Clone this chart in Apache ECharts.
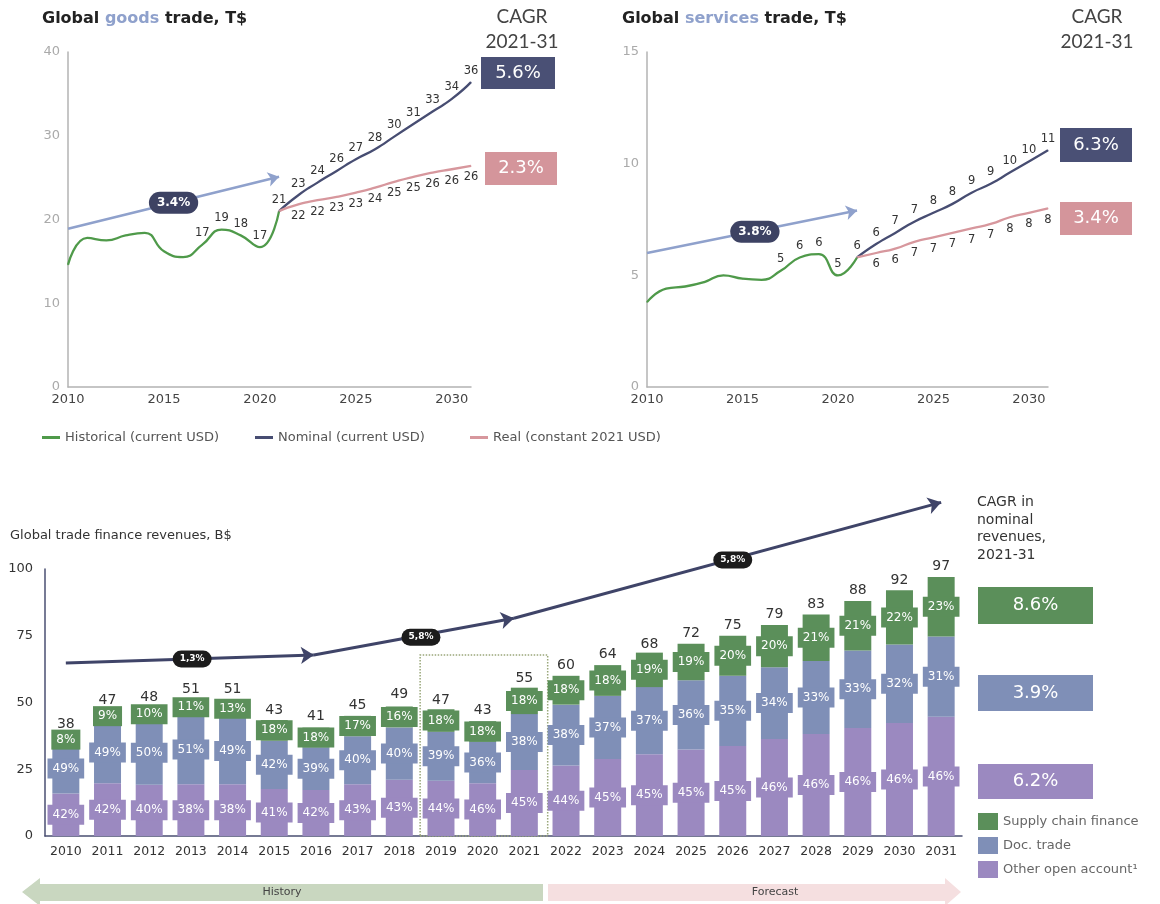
<!DOCTYPE html>
<html><head><meta charset="utf-8">
<script src="https://cdn.jsdelivr.net/npm/echarts@6/dist/echarts.min.js"></script>
<style>html,body{margin:0;padding:0;background:#fff}#c{width:1160px;height:904px}</style>
</head><body><div id="c"></div>
<script>
// ---------- DATA ----------
const histYears = [2010,2011,2012,2013,2014,2015,2016,2017,2018,2019,2020,2021];
const fcYears   = [2021,2022,2023,2024,2025,2026,2027,2028,2029,2030,2031];
const goodsHist    = [14.6,17.8,17.5,18.1,18.4,16.2,15.5,17.0,18.8,18.1,16.7,21.0];
const goodsNominal = [21.0,22.9,24.4,25.8,27.2,28.4,29.9,31.4,32.9,34.4,36.4];
const goodsReal    = [21.0,21.8,22.3,22.7,23.2,23.8,24.5,25.1,25.6,26.0,26.4];
const servHist     = [3.8,4.4,4.5,4.7,5.0,4.85,4.8,5.2,5.8,5.95,5.0,5.8];
const servNominal  = [5.8,6.4,6.9,7.4,7.8,8.2,8.7,9.1,9.6,10.1,10.6];
const servReal     = [5.8,6.0,6.2,6.5,6.7,6.9,7.1,7.3,7.6,7.8,8.0];
const goodsTrend = [[2010,18.9],[2021,25.1]];
const goodsTrendLabel = [[2015.5,22.0,'3.4%']];
const servTrend = [[2010,6.0],[2021,7.9]];
const servTrendLabel = [[2015.65,6.95,'3.8%']];
const goodsCagr = ['5.6%','2.3%'];
const servCagr  = ['6.3%','3.4%'];

const barYears = ['2010','2011','2012','2013','2014','2015','2016','2017','2018','2019','2020','2021','2022','2023','2024','2025','2026','2027','2028','2029','2030','2031'];
const totals     = [38,47,48,51,51,43,41,45,49,47,43,55,60,64,68,72,75,79,83,88,92,97];
const shareSCF   = [8,9,10,11,13,18,18,17,16,18,18,18,18,18,19,19,20,20,21,21,22,23];
const shareDoc   = [49,49,50,51,49,42,39,40,40,39,36,38,38,37,37,36,35,34,33,33,32,31];
const shareOther = [42,42,40,38,38,41,42,43,43,44,46,45,44,45,45,45,45,46,46,46,46,46];
const revTrend = [[0,64.8],[5.95,67.8],[10.75,81.6],[21.0,125]];
const revTrendLabels = [[3.03,66.3,'1,3%'],[8.52,74.5,'5,8%'],[16.0,103.4,'5,8%']];
const revCagr = ['8.6%','3.9%','6.2%'];

// ---------- STYLE ----------
const FONT = '"DejaVu Sans", sans-serif';
const LFONT = 'Lato, "Noto Sans", sans-serif';
const GREEN='#4f9a4a', NAVY='#474d72', PINK='#d7979d', TREND='#8fa1cc';
const BGREEN='#5b8f5a', BBLUE='#7f8fb7', BPURPLE='#9b89c0';
const NAMES = ['Historical (current USD)','Nominal (current USD)','Real (constant 2021 USD)'];
const BNAMES = ['Supply chain finance','Doc. trade','Other open account¹'];

function lineS(name, gi, years, vals, color, from, pos, smooth){
  return {type:'line', name, xAxisIndex:gi, yAxisIndex:gi, smooth,
    symbol:'circle', symbolSize:1, showAllSymbol:true,
    lineStyle:{color, width:2.3}, itemStyle:{color},
    data: years.map((y,i)=>({value:[y,vals[i]], label:{show:y>=from}})),
    label:{show:true, position:pos, distance:5, color:'#333', fontSize:11.5, fontFamily:FONT,
      formatter:p=>String(Math.round(p.value[1]))}, z:3};
}
function trendS(gi, pts, color, width, asize){
  const segs=[]; for(let i=0;i<pts.length-1;i++) segs.push([{coord:pts[i]},{coord:pts[i+1]}]);
  return {type:'line', name:'trend'+gi, xAxisIndex:gi, yAxisIndex:gi, data:pts, symbol:'none',
    lineStyle:{opacity:0}, silent:true, z:2,
    markLine:{silent:true, symbol:['none','arrow'], symbolSize:asize, precision:3,
      label:{show:false}, lineStyle:{color, width, type:'solid'}, data:segs}};
}
function ellS(gi, arr, bg, fs, pad){
  return {type:'scatter', name:'ell'+gi, xAxisIndex:gi, yAxisIndex:gi, symbolSize:1, silent:true, z:5,
    itemStyle:{color:'rgba(0,0,0,0)', opacity:1},
    data: arr.map(a=>({value:[a[0],a[1]], lbl:a[2]})),
    label:{show:true, position:'inside', formatter:p=>p.data.lbl, backgroundColor:bg, borderRadius:20,
      padding:pad, color:'#fff', fontWeight:'bold', fontSize:fs, fontFamily:FONT, opacity:1}};
}
function barS(name, shares, color){
  return {type:'bar', name, xAxisIndex:2, yAxisIndex:2, stack:'rev', barWidth:27,
    itemStyle:{color}, data: totals.map((t,i)=>t*shares[i]/100),
    label:{show:true, position:'inside', formatter:p=>shares[p.dataIndex]+'%', color:'#fff',
      fontSize:12, fontFamily:FONT, backgroundColor:color, padding:[4,5]}};
}
function box(x,y,w,h,fill,text){
  return [{type:'rect', shape:{x,y,width:w,height:h}, style:{fill}},
          {type:'text', x:x+w/2, y:y+h/2, style:{text, fill:'#fff', fontSize:18, fontFamily:FONT, align:'center', verticalAlign:'middle'}}];
}
function topLegend(i, left){
  return {left, top:431, padding:0, icon:'rect', itemWidth:18, itemHeight:3, data:[NAMES[i]],
    textStyle:{color:'#555', fontSize:13, fontFamily:FONT}, selectedMode:false};
}

const axisGray = {show:true, lineStyle:{color:'#b3b3b3', width:1.5}};
const option = {
  animation:false,
  textStyle:{fontFamily:FONT},
  grid:[
    {left:68, top:52, width:403, height:335},
    {left:647, top:52, width:401, height:335},
    {left:45, top:569, width:917, height:267},
    {left:45, top:489, width:917, height:347}
  ],
  xAxis:[
    {type:'value', gridIndex:0, min:2010, max:2031, interval:5, axisLine:axisGray, axisTick:{show:false}, splitLine:{show:false},
      axisLabel:{color:'#444', fontSize:13, margin:6, formatter:v=>v%5===0?String(v):''}},
    {type:'value', gridIndex:1, min:2010, max:2031, interval:5, axisLine:axisGray, axisTick:{show:false}, splitLine:{show:false},
      axisLabel:{color:'#444', fontSize:13, margin:6, formatter:v=>v%5===0?String(v):''}},
    {type:'category', gridIndex:2, data:barYears, axisLine:{show:true, lineStyle:{color:'#4a4f72', width:1.5}}, axisTick:{show:false},
      axisLabel:{color:'#333', fontSize:12.5, margin:9, interval:0}},
    {type:'value', gridIndex:3, min:-0.5, max:21.5, show:false}
  ],
  yAxis:[
    {type:'value', gridIndex:0, min:0, max:40, interval:10, axisLine:axisGray, axisTick:{show:false}, splitLine:{show:false},
      axisLabel:{color:'#aaa', fontSize:13}},
    {type:'value', gridIndex:1, min:0, max:15, interval:5, axisLine:axisGray, axisTick:{show:false}, splitLine:{show:false},
      axisLabel:{color:'#aaa', fontSize:13}},
    {type:'value', gridIndex:2, min:0, max:100, interval:25, axisLine:{show:true, lineStyle:{color:'#4a4f72', width:1.5}}, axisTick:{show:false}, splitLine:{show:false},
      axisLabel:{color:'#333', fontSize:13, margin:12}},
    {type:'value', gridIndex:3, min:0, max:130, show:false}
  ],
  legend:[
    topLegend(0, 42), topLegend(1, 255), topLegend(2, 470),
    {orient:'vertical', left:978, top:813, padding:0, icon:'rect', itemWidth:20, itemHeight:17, itemGap:7, data:BNAMES,
      textStyle:{color:'#666', fontSize:13, fontFamily:FONT}, selectedMode:false}
  ],
  series:[
    trendS(0, goodsTrend, TREND, 2.5, 11),
    lineS(NAMES[0],0,histYears,goodsHist,GREEN,2017,'top',0.5),
    lineS(NAMES[1],0,fcYears,goodsNominal,NAVY,2022,'top',0.6),
    lineS(NAMES[2],0,fcYears,goodsReal,PINK,2022,'bottom',0.6),
    ellS(0, goodsTrendLabel, '#3d4263', 12, [5,8]),
    trendS(1, servTrend, TREND, 2.5, 11),
    lineS(NAMES[0],1,histYears,servHist,GREEN,2017,'top',0.5),
    lineS(NAMES[1],1,fcYears,servNominal,NAVY,2022,'top',0.6),
    lineS(NAMES[2],1,fcYears,servReal,PINK,2022,'bottom',0.6),
    ellS(1, servTrendLabel, '#3d4263', 12, [5,8]),
    barS(BNAMES[2], shareOther, BPURPLE),
    barS(BNAMES[1], shareDoc, BBLUE),
    barS(BNAMES[0], shareSCF, BGREEN),
    {type:'scatter', name:'totals', xAxisIndex:2, yAxisIndex:2, symbolSize:1, itemStyle:{color:'rgba(0,0,0,0)', opacity:1}, data:totals,
      label:{show:true, position:'top', distance:3, color:'#333', fontSize:14, formatter:p=>String(p.value)}},
    trendS(3, revTrend, '#3f4468', 3, 13),
    ellS(3, revTrendLabels, '#1c1c1c', 9, [4,7]),
    {type:'line', name:'box', xAxisIndex:3, yAxisIndex:3, data:[], silent:true,
      markArea:{silent:true, itemStyle:{color:'rgba(0,0,0,0)', borderColor:'#9aa77a', borderWidth:1.5, borderType:'dotted'},
        data:[[{coord:[8.5,0]},{coord:[11.56,67.8]}]]}}
  ],
  graphic:[
    {type:'text', x:42, y:11, style:{text:'{a|Global }{b|goods}{a| trade, T$}', rich:{
      a:{fontSize:16, fontWeight:'bold', fill:'#222', fontFamily:FONT}, b:{fontSize:16, fontWeight:'bold', fill:TREND, fontFamily:FONT}}}},
    {type:'text', x:622, y:11, style:{text:'{a|Global }{b|services}{a| trade, T$}', rich:{
      a:{fontSize:16, fontWeight:'bold', fill:'#222', fontFamily:FONT}, b:{fontSize:16, fontWeight:'bold', fill:TREND, fontFamily:FONT}}}},
    {type:'text', x:522, y:4, style:{text:'CAGR\n2021-31', fill:'#444', fontSize:19, lineHeight:25, align:'center', fontFamily:LFONT}},
    {type:'text', x:1097, y:4, style:{text:'CAGR\n2021-31', fill:'#444', fontSize:19, lineHeight:25, align:'center', fontFamily:LFONT}},
    ...box(481,57,74,32,'#4a5075',goodsCagr[0]),
    ...box(485,152,72,33,'#d4959b',goodsCagr[1]),
    ...box(1060,128,72,34,'#4a5075',servCagr[0]),
    ...box(1060,202,72,33,'#d4959b',servCagr[1]),
    {type:'text', x:10, y:529, style:{text:'Global trade finance revenues, B$', fill:'#333', fontSize:13, fontFamily:FONT}},
    {type:'text', x:977, y:494, style:{text:'CAGR in\nnominal\nrevenues,\n2021-31', fill:'#333', fontSize:14, lineHeight:17.5, fontFamily:FONT}},
    ...box(978,587,115,37,BGREEN,revCagr[0]),
    ...box(978,675,115,36,BBLUE,revCagr[1]),
    ...box(978,764,115,35,BPURPLE,revCagr[2]),
    {type:'polygon', shape:{points:[[22,892],[40,878],[40,884],[543,884],[543,901],[40,901],[40,906]]}, style:{fill:'#c9d7c0'}},
    {type:'text', x:282, y:892, style:{text:'History', fill:'#444', fontSize:11, align:'center', verticalAlign:'middle', fontFamily:FONT}},
    {type:'polygon', shape:{points:[[548,884],[945,884],[945,878],[961,892],[945,906],[945,901],[548,901]]}, style:{fill:'#f5dfe0'}},
    {type:'text', x:775, y:892, style:{text:'Forecast', fill:'#444', fontSize:11, align:'center', verticalAlign:'middle', fontFamily:FONT}}
  ]
};
const chart = echarts.init(document.getElementById('c'), null, {renderer:'canvas'});
chart.setOption(option);
</script></body></html>
